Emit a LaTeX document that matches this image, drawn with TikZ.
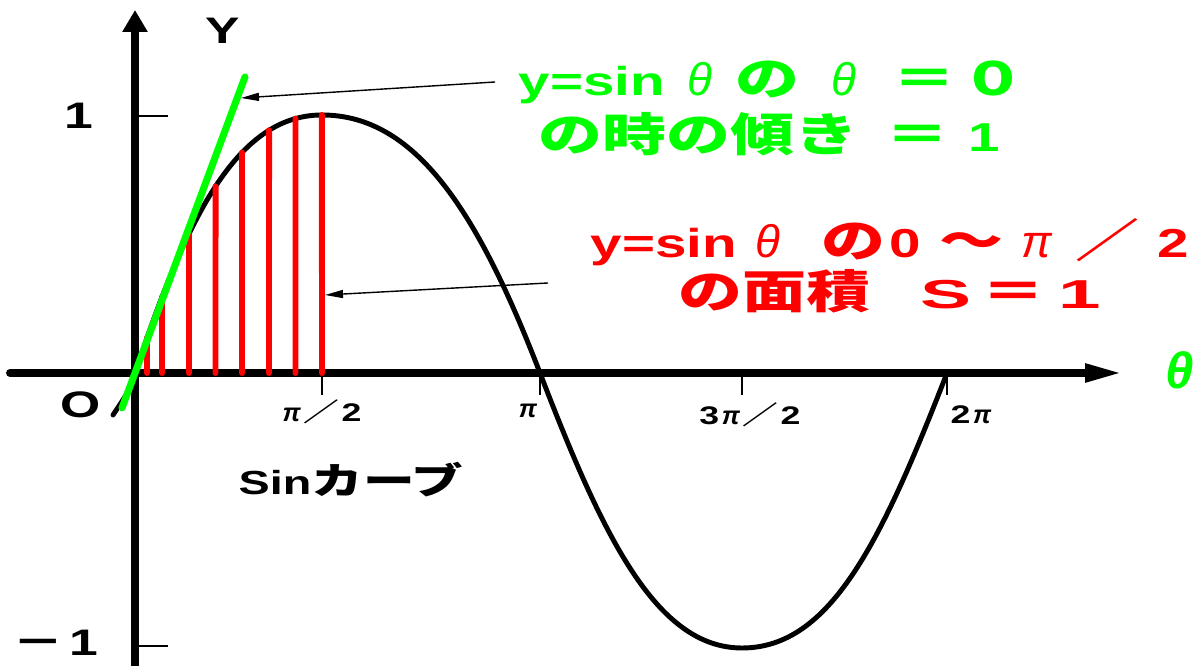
\documentclass[tikz,border=0pt]{standalone}
\usepackage{graphicx}
\usepackage{fontspec}
\setmainfont{Liberation Sans}
\newfontfamily\lat{Liberation Sans}[FakeStretch=1.4]
\newfontfamily\grk{Liberation Sans}
\newfontfamily\jp{Noto Sans CJK JP}
\newfontfamily\jpw{Noto Sans CJK JP}[FakeStretch=1.4]
\usetikzlibrary{arrows.meta,intersections}
\definecolor{svInk}{HTML}{000000}
\definecolor{svGreen}{HTML}{00FF00}
\definecolor{svRed}{HTML}{FF0000}
\tikzset{
 sinplot/.style={line cap=round,line join=round,text=svInk},
 axis/.style={draw=svInk,line width=4.5pt},
 curve/.style={draw=svInk,line width=2.8pt},
 tangent/.style={draw=svGreen,line width=4pt},
 strip/.style={draw=svRed,line width=3.4pt},
 tick/.style={draw=svInk,line width=.6pt,line cap=butt},
 pointer/.style={draw=svInk,line width=.8pt,line cap=butt,-{Triangle[length=.36cm,width=.16cm]}},
 axlabel/.style={font=\lat\bfseries\fontsize{21}{21}\selectfont,inner sep=0pt},
 ticklabel/.style={font=\lat\bfseries\fontsize{14.5}{14.5}\selectfont,inner sep=0pt},
 note/.style={font=\bfseries\fontsize{26}{26}\selectfont,inner sep=0pt}
}
\newcommand{\latTxt}[1]{{\lat\fontsize{23}{23}\selectfont #1}}
\newcommand{\wideTxt}[1]{\scalebox{1.35}[1]{\latTxt{#1}}}
\newcommand{\grkTxt}[1]{{\grk\itshape\mdseries #1}}
\newcommand{\piTxt}{{\grk\itshape\bfseries π}}

\begin{document}
\begin{tikzpicture}[sinplot,x=1cm,y=1cm]
 \useasboundingbox (-2.7,-5.86) rectangle (21.36,7.46);
 % axes
 \draw[axis,-{Triangle[length=.76cm,width=.34cm]}] (-2.5,0) -- (19.76,0);
 \draw[axis,-{Triangle[length=.44cm,width=.48cm]}] (0,-6) -- (0,7.26);
 \draw[tick] (0,5.14) -- (.66,5.14);
 \draw[tick] (0,-5.46) -- (.66,-5.46);
 \foreach \tx in {3.74,8.1,12.14,16.24}
  \draw[tick] (\tx,0) -- (\tx,-.44);
 % sine curve
 \draw[curve,name path=sine] (-.44,-.84) .. controls (-.12,-.36) .. (0,0)
  .. controls (1,3) and (2,5.16) .. (3.74,5.16)
  .. controls (5.6,5.16) and (6.85,3.25) .. (8.1,0)
  .. controls (9.35,-3.25) and (10.42,-5.5) .. (12.14,-5.5)
  .. controls (13.9,-5.5) and (14.92,-3.4) .. (16.24,0);
 % area strips
 \foreach \xx in {.24,.54,1.08,1.61,2.14,2.68,3.21,3.74}{
  \path[name path=cut] (\xx,.1) -- (\xx,6.5);
  \draw[strip,name intersections={of=sine and cut}] (\xx,0) -- (intersection-1);
 }
 % tangent at the origin
 \draw[tangent] (-.26,-.7) -- (2.2,5.92);
 % labels
 \node[axlabel] (ylab) at (1.76,6.84) {Y};
 \node[axlabel] (one) at (-1.12,5.14) {1};
 \node[axlabel] (orig) at (-1.08,-.64) {O};
 \node[axlabel] (mone) at (-1.6,-5.4) {{\jpw －}\hspace{.15em}1};
 \node[font=\grk\itshape\bfseries\fontsize{29}{29}\selectfont,text=svGreen,inner sep=0pt] (thlab) at (20.9,.06) {θ};
 \node[ticklabel] (half) at (3.74,-.78) {\piTxt\hspace{.1em}{\jpw ／}\hspace{.1em}2};
 \node[ticklabel] (pi) at (7.86,-.76) {\piTxt};
 \node[ticklabel] (thalf) at (12.3,-.84) {3\hspace{.1em}\piTxt\hspace{.1em}{\jpw ／}\hspace{.1em}2};
 \node[ticklabel] (twopi) at (16.72,-.84) {2\hspace{.1em}\piTxt};
 \node[font=\bfseries\fontsize{21}{21}\selectfont,inner sep=0pt] (name) at (4.32,-2.14)
  {{\lat\fontsize{19}{19}\selectfont Sin}{\jpw カーブ}};
 % notes
 \node[note,text=svGreen] (slopeA) at (12.74,5.82)
  {\latTxt{y=sin}\hspace{.5em}\grkTxt{θ}\hspace{.5em}{\jpw の}\hspace{.7em}\grkTxt{θ}\hspace{.8em}{\jpw ＝}\hspace{.1em}{\jpw ０}};
 \node[note,text=svGreen] (slopeB) at (12.68,4.78)
  {{\jpw の時の傾き}\hspace{.6em}{\jpw ＝}\hspace{.4em}\latTxt{1}};
 \node[note,text=svRed] (areaA) at (15.1,2.62)
  {\latTxt{y=sin}\hspace{.4em}\grkTxt{θ}\hspace{.9em}{\jpw の}\hspace{.1em}\latTxt{0}\hspace{.4em}{\jpw 〜}\hspace{.4em}\grkTxt{π}\hspace{.5em}{\jpw ／}\hspace{.4em}\latTxt{2}};
 \node[note,text=svRed] (areaB) at (15.1,1.64)
  {{\jpw の面積}\hspace{1.1em}\wideTxt{S}\hspace{.2em}{\jpw ＝}\hspace{.3em}\wideTxt{1}};
 % pointers
 \coordinate (slopeTail) at (7.2,5.82);
 \coordinate (slopeTip) at (2.12,5.5);
 \coordinate (areaTail) at (8.26,1.8);
 \coordinate (areaTip) at (3.8,1.56);
 \draw[pointer] (slopeTail) -- (slopeTip);
 \draw[pointer] (areaTail) -- (areaTip);
\end{tikzpicture}
\end{document}
